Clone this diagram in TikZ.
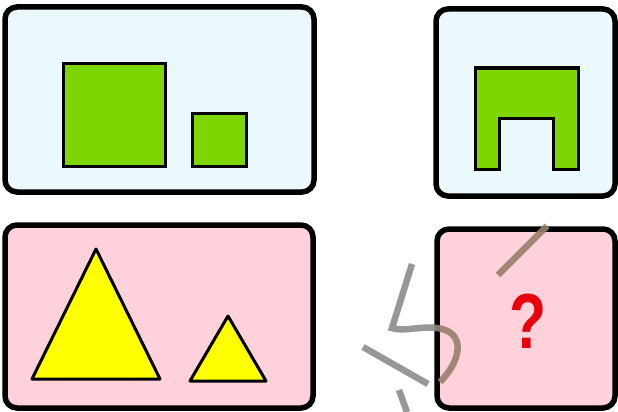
\documentclass[tikz,border=0pt]{standalone}
\usepackage{fontspec}
\newfontfamily\qfont{Liberation Sans}
\definecolor{panelblue}{HTML}{ECF9FC}
\definecolor{panelpink}{HTML}{FFD1DA}
\definecolor{shapegreen}{HTML}{7ED600}
\definecolor{shapeyellow}{HTML}{FFFF00}
\definecolor{qred}{HTML}{E8000C}
\definecolor{scribgrey}{HTML}{8C8C8C}
\definecolor{scribbrown}{HTML}{9A7F6C}
\tikzset{
  panel/.style={draw=black, line width=5.5pt, rounded corners=12pt},
  bluepanel/.style={panel, fill=panelblue},
  pinkpanel/.style={panel, fill=panelpink},
  greenshape/.style={draw=black, line width=3pt, fill=shapegreen, line join=miter},
  yellowshape/.style={draw=black, line width=3pt, fill=shapeyellow, line join=round},
  greyscrib/.style={draw=scribgrey, line width=6.5pt, opacity=0.9},
  brownscrib/.style={draw=scribbrown, line width=6.5pt, opacity=0.9}
}
\begin{document}
\begin{tikzpicture}[x=1pt,y=-1pt]
\useasboundingbox (0,0) rectangle (618,412);
\fill[white] (0,0) rectangle (618,412);
% panels
\draw[bluepanel] (5,7) rectangle (314,192);
\draw[bluepanel] (436,9) rectangle (615,196);
\draw[pinkpanel] (5,225) rectangle (313,408);
\draw[pinkpanel] (437,229) rectangle (615,408);
% top-left squares
\draw[greenshape] (63,64) rectangle (165,166);
\draw[greenshape] (192,113) rectangle (246,166);
% top-right arch
\draw[greenshape] (475,68) -- (578,68) -- (578,169) -- (553,169) -- (553,118) -- (499,118) -- (499,169) -- (475,169) -- cycle;
% bottom-left triangles
\draw[yellowshape] (96,249) -- (160,379) -- (32,379) -- cycle;
\draw[yellowshape] (228,316) -- (266,381) -- (190,381) -- cycle;
% question mark
\node[text=qred, font=\qfont\bfseries\fontsize{78}{78}\selectfont, xscale=0.78, inner sep=0pt] (q) at (528,321) {?};
% scribbles
\draw[greyscrib] (412,264) -- (392,328) .. controls (402,332) and (420,326) .. (437,328);
\draw[brownscrib] (437,328) .. controls (468,332) and (460,362) .. (440,382);
\draw[greyscrib] (363,347) -- (428,384);
\draw[greyscrib] (399,390) -- (407,412);
\draw[brownscrib] (498,275) -- (547,226);
\end{tikzpicture}
\end{document}
